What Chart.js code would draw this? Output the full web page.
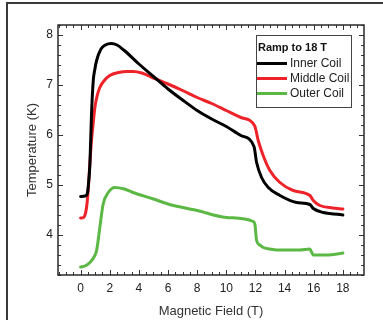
<!DOCTYPE html>
<html>
<head>
<meta charset="utf-8">
<script src="https://cdn.jsdelivr.net/npm/chart.js@4/dist/chart.umd.min.js"></script>
<style>
  html, body { margin: 0; padding: 0; background: #fff; }
  #wrap { position: relative; width: 383px; height: 320px; }
  #frame { position: absolute; left: 6px; top: 2px; right: -4px; bottom: -4px;
           border-top: 2px solid #3a3a3a; border-left: 2px solid #3a3a3a; }
  canvas { position: absolute; left: 0; top: 0; }
</style>
</head>
<body>
<div id="wrap">
  <div id="frame"></div>
  <canvas id="chart" width="383" height="320"></canvas>
</div>
<script>
// field (T) and temperature (K)
let innerField = [0, 0.3, 0.45, 0.52, 0.64, 0.75, 0.87, 0.97, 1.1, 1.4, 1.7, 2.1, 2.5, 3, 4, 5, 6, 7, 8, 9, 10, 11, 11.9, 12.08, 12.42, 12.88, 13.68, 14.82, 15.74, 15.97, 16.65, 17.8, 18]
let innerTemp = [4.77, 4.78, 4.82, 4.95, 5.42, 6.42, 7.09, 7.3, 7.49, 7.72, 7.8, 7.83, 7.8, 7.69, 7.42, 7.17, 6.92, 6.70, 6.49, 6.32, 6.17, 5.99, 5.77, 5.45, 5.15, 4.95, 4.79, 4.65, 4.61, 4.53, 4.45, 4.41, 4.40]

let middleField = [0, 0.2, 0.35, 0.45, 0.52, 0.62, 0.75, 0.87, 0.98, 1.15, 1.32, 1.6, 2.0, 2.6, 3.2, 3.6, 4.2, 5, 6, 7, 8, 9, 10, 11, 11.95, 12.19, 12.53, 12.99, 13.68, 14.59, 15.74, 15.97, 16.42, 17.3, 18]
let middleTemp = [4.34, 4.35, 4.45, 4.65, 4.89, 5.35, 5.89, 6.25, 6.55, 6.8, 6.95, 7.08, 7.19, 7.25, 7.27, 7.27, 7.24, 7.14, 7.02, 6.89, 6.75, 6.63, 6.49, 6.35, 6.18, 5.89, 5.59, 5.29, 5.05, 4.89, 4.79, 4.69, 4.59, 4.54, 4.52]

let outerField = [0, 0.3, 0.64, 0.9, 1.1, 1.32, 1.55, 1.9, 2.35, 3, 3.6, 5, 6, 8, 10, 11.85, 11.97, 12.08, 12.3, 12.53, 13, 13.45, 15.05, 15.74, 15.85, 15.97, 16.88, 17.8, 18]
let outerTemp = [3.36, 3.38, 3.45, 3.55, 3.69, 4.15, 4.62, 4.85, 4.95, 4.92, 4.85, 4.72, 4.62, 4.49, 4.35, 4.27, 4.2, 3.89, 3.8, 3.75, 3.72, 3.7, 3.7, 3.72, 3.66, 3.6, 3.6, 3.63, 3.64]

let seriesNames = ["Inner Coil", "Middle Coil", "Outer Coil"]
let seriesColors = ["#000000", "#ee2229", "#5cb845"]
let legendTitle = "Ramp to 18 T"

let fieldTicks = [0, 2, 4, 6, 8, 10, 12, 14, 16, 18]
let tempTicks = [4, 5, 6, 7, 8]

function pairs(xs, ys) {
    return xs.map((x, i) => ({x: x, y: ys[i]}))
}

// inward ticks on all four sides + frame
let frameTicks = {
    id: "frameTicks",
    afterDraw(chart) {
        let ctx = chart.ctx
        let a = chart.chartArea
        let xs = chart.scales.x
        let ys = chart.scales.y
        ctx.save()
        ctx.strokeStyle = "#333"
        ctx.lineWidth = 1
        ctx.beginPath()
        for (let v = Math.ceil(xs.min / 0.5) * 0.5; v <= xs.max; v += 0.5) {
            let px = Math.round(xs.getPixelForValue(v)) + 0.5
            let len = fieldTicks.includes(v) ? 5 : 3
            ctx.moveTo(px, a.bottom); ctx.lineTo(px, a.bottom - len)
            ctx.moveTo(px, a.top); ctx.lineTo(px, a.top + len)
        }
        for (let k = Math.ceil(ys.min * 5); k <= Math.floor(ys.max * 5); k++) {
            let v = k / 5
            let py = Math.round(ys.getPixelForValue(v)) + 0.5
            let len = (k % 5 == 0) ? 5 : 3
            ctx.moveTo(a.left, py); ctx.lineTo(a.left + len, py)
            ctx.moveTo(a.right, py); ctx.lineTo(a.right - len, py)
        }
        ctx.stroke()
        ctx.lineWidth = 1.5
        ctx.strokeStyle = "#2a2a2a"
        ctx.strokeRect(a.left, a.top, a.right - a.left, a.bottom - a.top)

        // legend box
        let bx = 256, by = 35, bw = 95, bh = 72
        ctx.fillStyle = "#fff"
        ctx.fillRect(bx, by, bw, bh)
        ctx.lineWidth = 1
        ctx.strokeStyle = "#444"
        ctx.strokeRect(bx + 0.5, by + 0.5, bw, bh)
        ctx.fillStyle = "#111"
        ctx.textBaseline = "middle"
        ctx.font = "bold 11px 'Liberation Sans', Arial, sans-serif"
        ctx.fillText(legendTitle, bx + 2, by + 13)
        ctx.font = "12px 'Liberation Sans', Arial, sans-serif"
        chart.data.datasets.forEach((ds, i) => {
            let ly = by + 28.5 + i * 15
            ctx.strokeStyle = ds.borderColor
            ctx.lineWidth = 3
            ctx.beginPath()
            ctx.moveTo(bx + 1, ly); ctx.lineTo(bx + 31, ly)
            ctx.stroke()
            ctx.fillStyle = "#222"
            ctx.fillText(ds.label, bx + 34, ly)
        })
        ctx.restore()
    }
}

let chart = new Chart("chart", {
    type: "line",
    data: {
        datasets: [
            {label: seriesNames[0], data: pairs(innerField, innerTemp), borderColor: seriesColors[0], order: 0},
            {label: seriesNames[1], data: pairs(middleField, middleTemp), borderColor: seriesColors[1], order: 1},
            {label: seriesNames[2], data: pairs(outerField, outerTemp), borderColor: seriesColors[2], order: 2}
        ]
    },
    options: {
        responsive: false,
        animation: false,
        devicePixelRatio: 1,
        layout: {padding: {left: 0, top: 25, right: 19, bottom: 0}},
        elements: {
            point: {radius: 0},
            line: {borderWidth: 3, cubicInterpolationMode: "monotone", borderCapStyle: "round", borderJoinStyle: "round"}
        },
        plugins: {legend: {display: false}, tooltip: {enabled: false}},
        scales: {
            x: {
                type: "linear",
                min: -1.55,
                max: 19.45,
                grid: {display: false, drawTicks: false},
                border: {display: false},
                afterBuildTicks(s) { s.ticks = fieldTicks.map(v => ({value: v})) },
                afterFit(s) { s.height = 45 },
                ticks: {color: "#222", padding: 6, font: {size: 12, family: "'Liberation Sans', Arial"}},
                title: {display: true, text: "Magnetic Field (T)", color: "#333", font: {size: 13, family: "'Liberation Sans', Arial"}, padding: {top: 0, bottom: 1}}
            },
            y: {
                type: "linear",
                min: 3.2,
                max: 8.2,
                grid: {display: false, drawTicks: false},
                border: {display: false},
                afterBuildTicks(s) { s.ticks = tempTicks.map(v => ({value: v})) },
                afterFit(s) { s.width = 58 },
                ticks: {color: "#222", padding: 5, font: {size: 12, family: "'Liberation Sans', Arial"}},
                title: {display: true, text: "Temperature (K)", color: "#333", font: {size: 13, family: "'Liberation Sans', Arial"}, padding: {top: 25, bottom: 0}}
            }
        }
    },
    plugins: [frameTicks]
})
</script>
</body>
</html>
